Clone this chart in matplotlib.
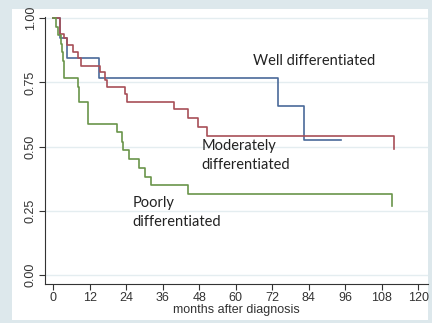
import matplotlib
matplotlib.use("Agg")
import matplotlib.pyplot as plt

# Kaplan-Meier step data (months, survival)
well_t = [0, 2.2, 4.4, 15.1, 73.8, 82.5, 94.5]
well_s = [1.0, 0.923, 0.846, 0.769, 0.659, 0.527, 0.527]

mod_t = [0, 2.2, 3.5, 4.5, 6.5, 8.1, 9.1, 15.4, 17.0, 17.7, 23.6, 24.2,
         39.8, 44.2, 47.5, 50.4, 112.0]
mod_s = [1.0, 0.94, 0.922, 0.896, 0.87, 0.844, 0.814, 0.792, 0.76, 0.731,
         0.704, 0.673, 0.645, 0.61, 0.578, 0.541, 0.49]

poor_t = [0, 0.8, 1.6, 2.4, 3.0, 3.3, 3.6, 8.0, 8.5, 11.3, 11.5, 20.8,
          22.5, 22.8, 25.0, 28.3, 30.1, 32.1, 44.4, 111.4]
poor_s = [1.0, 0.967, 0.933, 0.9, 0.867, 0.833, 0.767, 0.733, 0.675, 0.617,
          0.587, 0.556, 0.519, 0.487, 0.452, 0.418, 0.383, 0.351, 0.314, 0.269]

xticks = list(range(0, 121, 12))
yticks = [0, 0.25, 0.5, 0.75, 1.0]

plt.rcParams["font.family"] = "Liberation Sans"

fig = plt.figure(figsize=(4.32, 3.23), dpi=100, facecolor="#dde8ec")

# white inner region as a blank background axes
bg = fig.add_axes([12 / 432, 1 - 320 / 323, 416 / 432, 311 / 323], zorder=-1)
bg.set_facecolor("white")
bg.set_xticks([])
bg.set_yticks([])
for s in bg.spines.values():
    s.set_visible(False)

ax = fig.add_axes([45 / 432, 1 - 284 / 323, 383 / 432, 275 / 323])
ax.patch.set_alpha(0)

for y in yticks:
    ax.axhline(y, color="#e4edf0", lw=1.0, zorder=0)

ax.step(well_t, well_s, where="post", color="#4a6a99", lw=1.2)
ax.step(mod_t, mod_s, where="post", color="#a84f58", lw=1.2)
ax.step(poor_t, poor_s, where="post", color="#6a954a", lw=1.2)

ax.set_xlim(-2.73, 123.2)
ax.set_ylim(-0.035, 1.036)
ax.spines["top"].set_visible(False)
ax.spines["right"].set_visible(False)
ax.spines["left"].set_bounds(-0.035, 1.005)
ax.spines["left"].set_color("#333333")
ax.spines["bottom"].set_color("#333333")

ax.set_xticks(xticks)
ax.set_yticks(yticks)
ax.set_yticklabels(["%.2f" % v for v in yticks], rotation=90, va="center")
ax.tick_params(axis="both", direction="out", length=4, width=0.8,
               color="#333333", labelcolor="#333333", labelsize=9, pad=2)
ax.set_xlabel("months after diagnosis", fontsize=9, color="#333333", labelpad=0)

tfont = dict(family="Lato", fontsize=10.5, color="#222222")
ax.text(65.7, 0.834, "Well differentiated", va="center", ha="left", **tfont)
ax.text(48.8, 0.464, "Moderately\ndifferentiated", va="center", ha="left",
        linespacing=1.45, **tfont)
ax.text(26.1, 0.242, "Poorly\ndifferentiated", va="center", ha="left",
        linespacing=1.45, **tfont)

fig.savefig("out.png", dpi=100, facecolor=fig.get_facecolor())
